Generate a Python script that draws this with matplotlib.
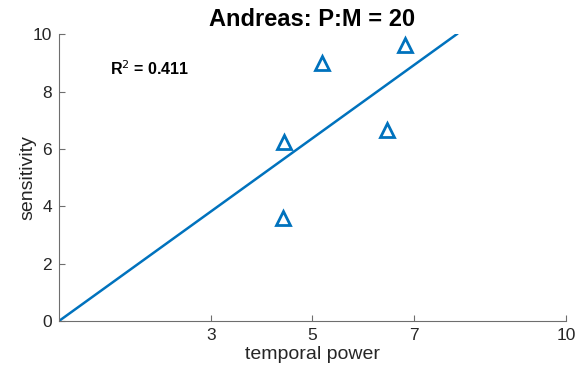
import matplotlib.pyplot as plt
import numpy as np

plt.rcParams['font.family'] = ['Liberation Sans', 'DejaVu Sans']

# temporal power vs sensitivity per block
temporal_power = [4.41, 4.43, 5.19, 6.48, 6.82]
sensitivity = [3.60, 6.24, 9.01, 6.66, 9.62]
slope = 1.274
fit_end = 7.85
r_squared = 0.411
xticks = [3, 5, 7, 10]
yticks = [0, 2, 4, 6, 8, 10]

blue = '#0072BD'
axis_gray = '#6e6e6e'

fig = plt.figure(figsize=(5.84, 3.75), dpi=100)
ax = fig.add_axes([0.101, 0.144, 0.868, 0.765])

fit_x = np.array([0, fit_end])
ax.plot(fit_x, slope * fit_x, color=blue, linewidth=1.8)
ax.plot(temporal_power, sensitivity, linestyle='none', marker='^', markersize=10,
        markerfacecolor='none', markeredgecolor=blue, markeredgewidth=2)

ax.text(1.0, 8.8, f'R$^2$ = {r_squared}', fontsize=11.5, fontweight='bold', va='center')

ax.set_xlim(0, 10)
ax.set_ylim(0, 10)
ax.set_xticks(xticks)
ax.set_yticks(yticks)
ax.set_xlabel('temporal power', fontsize=14, color='#262626', labelpad=2)
ax.set_ylabel('sensitivity', fontsize=14, color='#262626', labelpad=-3)
ax.set_title('Andreas: P:M = 20', fontsize=17, fontweight='bold', pad=6)

ax.spines['top'].set_visible(False)
ax.spines['right'].set_visible(False)
for s in ('left', 'bottom'):
    ax.spines[s].set_color(axis_gray)
ax.tick_params(direction='in', color=axis_gray, labelcolor='#262626', labelsize=12.5, length=4, pad=5)

fig.savefig('out.png', dpi=100)
